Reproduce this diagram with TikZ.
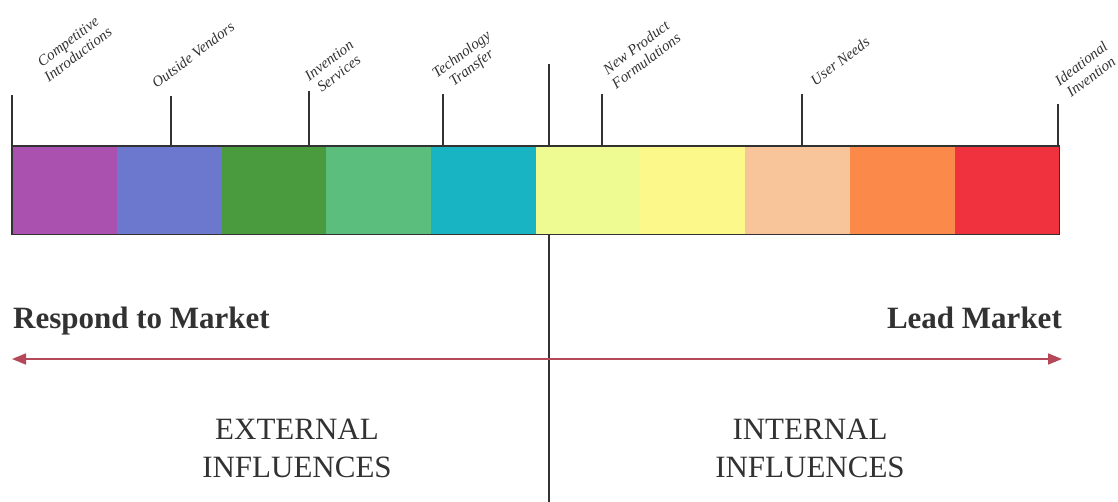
\documentclass[tikz,border=0pt]{standalone}
\usepackage{fontspec}
\setmainfont{Liberation Serif}
\usetikzlibrary{arrows.meta}
\definecolor{cA}{RGB}{170,80,175}
\definecolor{cB}{RGB}{108,120,206}
\definecolor{cC}{RGB}{74,154,62}
\definecolor{cD}{RGB}{92,190,124}
\definecolor{cE}{RGB}{24,180,196}
\definecolor{cF}{RGB}{238,250,146}
\definecolor{cG}{RGB}{252,249,138}
\definecolor{cH}{RGB}{248,196,154}
\definecolor{cI}{RGB}{251,138,74}
\definecolor{cJ}{RGB}{240,50,63}
\definecolor{inkgray}{RGB}{50,50,50}
\definecolor{mktred}{RGB}{180,72,88}
\begin{document}
\begin{tikzpicture}[x=1pt,y=-1pt,
  seg/.style={anchor=north west,minimum width=104.7pt,minimum height=88pt,inner sep=0pt,draw=none},
  barline/.style={draw=inkgray,line width=1.4pt},
  tick/.style={draw=inkgray,line width=1.2pt},
  lbl/.style={font=\itshape\fontsize{15}{16.5}\selectfont,text=inkgray,align=center,rotate=37,inner sep=0pt},
  side/.style={font=\bfseries\fontsize{31}{34}\selectfont,text=inkgray,inner sep=0pt},
  infl/.style={font=\fontsize{31}{38}\selectfont,text=inkgray,align=center,inner sep=0pt},
  mkt/.style={draw=mktred,line width=1.7pt,{Triangle[length=14pt,width=11pt]}-{Triangle[length=14pt,width=11pt]}}
]
\useasboundingbox (0,0) rectangle (1118,502);
\clip (0,0) rectangle (1118,502);
% centre divider
\coordinate (ctop) at (549,64);
\coordinate (cbot) at (549,502);
\draw[tick] (ctop) -- (cbot);
% bar segments
\foreach \i/\c in {1/cA,2/cB,3/cC,4/cD,5/cE,6/cF,7/cG,8/cH,9/cI,10/cJ}
  \node[seg,fill=\c] (s\i) at ({12+(\i-1)*104.7},146) {};
\draw[barline] (s1.north west) rectangle (s10.south east);
% ticks
\coordinate (t1) at (12,95);
\coordinate (t2) at (171,96);
\coordinate (t3) at (309,91);
\coordinate (t4) at (443,94);
\coordinate (t5) at (602,94);
\coordinate (t6) at (802,94);
\coordinate (t7) at (1058,104);
\foreach \t in {t1,t2,t3,t4,t5,t6,t7}
  \draw[tick] (\t) -- (\t |- s1.north);
% tick labels
\node[lbl] (l1) at (73,48) {Competitive\\Introductions};
\node[lbl] (l2) at (193,55) {Outside Vendors};
\node[lbl] (l3) at (334,67) {Invention\\Services};
\node[lbl] (l4) at (467,62) {Technology\\Transfer};
\node[lbl] (l5) at (641,54) {New Product\\Formulations};
\node[lbl] (l6) at (840,61) {User Needs};
\node[lbl] (l7) at (1086,70) {Ideational\\Invention};
% market arrow
\node[side,anchor=base west] (resp) at (13,328) {Respond to Market};
\node[side,anchor=base east] (lead) at (1062,328) {Lead Market};
\coordinate (aL) at (12,359);
\coordinate (aR) at (1062,359);
\draw[mkt] (aL) -- (aR);
% influences
\node[infl,anchor=base] (ext) at (297,477) {EXTERNAL\\INFLUENCES};
\node[infl,anchor=base] (int) at (810,477) {INTERNAL\\INFLUENCES};
\end{tikzpicture}
\end{document}
